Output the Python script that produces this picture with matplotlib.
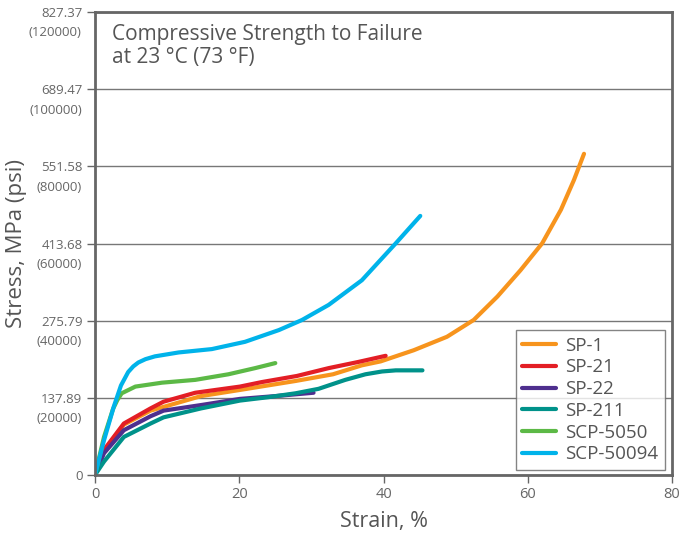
import matplotlib
matplotlib.use("Agg")
import matplotlib.pyplot as plt

plt.rcParams['font.family'] = ['Open Sans', 'DejaVu Sans']

# datos (deformacion %, esfuerzo MPa)
sp1_x = [0, 1.25, 4.0, 7.7, 14.7, 20.1, 27.8, 33.0, 37.0, 39.6, 44.2, 48.8, 52.5, 55.8, 59.0, 62.0, 64.6, 66.4, 67.8]
sp1_y = [0, 43, 90, 115, 141, 152, 168, 180, 196, 203, 223, 247, 277, 319, 366, 414, 474, 527, 574]

sp21_x = [0, 1.25, 4.0, 7.7, 9.5, 13.9, 20.1, 23.1, 28.0, 32.4, 36.5, 40.3]
sp21_y = [0, 45, 92, 119, 131, 147, 158, 166, 177, 191, 202, 213]

sp22_x = [0, 1.25, 4.0, 7.7, 9.5, 14.7, 20.1, 25.0, 30.3]
sp22_y = [0, 39, 80, 105, 115, 125, 136, 141, 147]

sp211_x = [0, 1.25, 4.0, 7.7, 9.5, 14.7, 20.1, 24.0, 27.8, 31.0, 34.7, 37.5, 39.8, 41.7, 45.4]
sp211_y = [0, 24, 68, 92, 103, 119, 133, 139, 146, 154, 170, 180, 185, 187, 187]

scp5050_x = [0, 1.25, 2.5, 3.1, 3.7, 5.6, 9.3, 13.9, 18.5, 22.2, 25.0]
scp5050_y = [0, 68, 118, 134, 146, 158, 165, 170, 180, 191, 200]

scp50094_x = [0, 1.25, 2.6, 3.6, 4.6, 5.3, 6.0, 7.0, 8.3, 11.6, 16.2, 20.8, 25.5, 28.7, 32.4, 37.0, 41.7, 45.1]
scp50094_y = [0, 62, 122, 160, 184, 194, 201, 207, 212, 219, 225, 238, 259, 277, 304, 348, 414, 463]

series = [
    ("SP-1", sp1_x, sp1_y, "#F7941D"),
    ("SP-21", sp21_x, sp21_y, "#E31E25"),
    ("SP-22", sp22_x, sp22_y, "#4E2F8E"),
    ("SP-211", sp211_x, sp211_y, "#00928A"),
    ("SCP-5050", scp5050_x, scp5050_y, "#5CB946"),
    ("SCP-50094", scp50094_x, scp50094_y, "#00B3EA"),
]

yticks = [0, 137.89, 275.79, 413.68, 551.58, 689.47, 827.37]
ytick_labels = ["0", "137.89", "275.79", "413.68", "551.58", "689.47", "827.37"]
psi_labels = ["", "(20000)", "(40000)", "(60000)", "(80000)", "(100000)", "(120000)"]
xticks = [0, 20, 40, 60, 80]

gris = "#666666"

fig = plt.figure(figsize=(6.94, 5.37), dpi=100)
ax = fig.add_axes([95/694, 62/537, 577/694, 463/537])

for nombre, x, y, color in series:
    ax.plot(x, y, color=color, lw=3, label=nombre, solid_capstyle="round", solid_joinstyle="round")

ax.set_xlim(0, 80)
ax.set_ylim(0, 827.37)
ax.set_xticks(xticks)
ax.set_yticks(yticks)
ax.set_yticklabels(ytick_labels)

ax.grid(axis="y", color="#777777", lw=1)
ax.set_axisbelow(True)
for s in ax.spines.values():
    s.set_color(gris)
    s.set_linewidth(2)
ax.tick_params(colors=gris, labelcolor=gris, labelsize=9.5, length=6, width=1, pad=3)
ax.tick_params(axis="x", labelsize=10.5)

for val, lab in zip(yticks, psi_labels):
    if lab:
        ax.annotate(lab, xy=(0, val), xycoords=("axes fraction", "data"),
                    xytext=(-9.5, -15), textcoords="offset points",
                    ha="right", va="center", fontsize=9.5, color=gris)

ax.set_xlabel("Strain, %", fontsize=15.5, color="#555555", labelpad=6)
ax.set_ylabel("Stress, MPa (psi)", fontsize=16, color="#555555")
ax.yaxis.set_label_coords(-0.118, 0.5)

ax.text(0.029, 0.975, "Compressive Strength to Failure\nat 23 °C (73 °F)", transform=ax.transAxes,
        ha="left", va="top", fontsize=15, color="#555555", linespacing=1.15)

leg = ax.legend(loc="lower right", bbox_to_anchor=(0.988, 0.011), borderaxespad=0,
                fontsize=13.5, frameon=True, fancybox=False, handlelength=1.8,
                handletextpad=0.5, labelspacing=0.2, borderpad=0.35)
leg.get_frame().set_edgecolor(gris)
leg.get_frame().set_linewidth(1)
for t in leg.get_texts():
    t.set_color("#555555")

fig.savefig("out.png", dpi=100)
